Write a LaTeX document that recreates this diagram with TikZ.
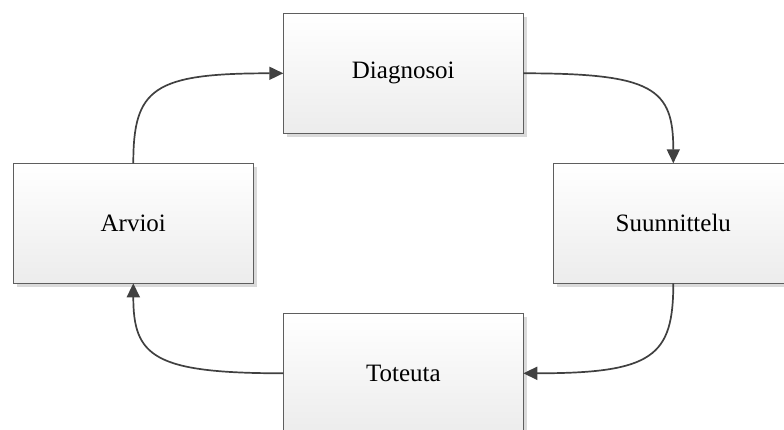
\documentclass[tikz,border=0pt]{standalone}
\usepackage{fontspec}
\setmainfont{Liberation Serif}
\usetikzlibrary{arrows.meta,shadows}
\definecolor{boxline}{HTML}{5E5E5E}
\definecolor{flowline}{HTML}{404040}
\definecolor{boxbottom}{HTML}{ECECEC}
\definecolor{shadowgray}{HTML}{DADADA}
\tikzset{
  stage/.style={rectangle, draw=boxline, line width=1pt,
    top color=white, bottom color=boxbottom,
    minimum width=240pt, minimum height=120pt, outer sep=0pt,
    font=\fontsize{25}{30}\selectfont,
    drop shadow={shadow xshift=3.5pt, shadow yshift=-3.5pt, fill=shadowgray, opacity=1}},
  flow/.style={draw=flowline, line width=1.7pt,
    -{Triangle[length=14pt,width=13pt]}}
}
\begin{document}
\begin{tikzpicture}[x=1pt,y=-1pt]
  \clip (0,0) rectangle (784,430);
  % the four stages of the cycle
  \node[stage] (diag) at (403.3,73.3)  {Diagnosoi};
  \node[stage] (arv)  at (133.3,223.3) {Arvioi};
  \node[stage] (suun) at (673.3,223.3) {Suunnittelu};
  \node[stage] (tot)  at (403.3,373.3) {Toteuta};
  % curved connectors running clockwise
  \draw[flow] (arv.north)  .. controls +(0,-75) and +(-130,0) .. (diag.west);
  \draw[flow] (diag.east)  .. controls +(130,0) and +(0,-75) .. (suun.north);
  \draw[flow] (suun.south) .. controls +(0,73) and +(130,0) .. (tot.east);
  \draw[flow] (tot.west)   .. controls +(-130,0) and +(0,73) .. (arv.south);
\end{tikzpicture}
\end{document}
